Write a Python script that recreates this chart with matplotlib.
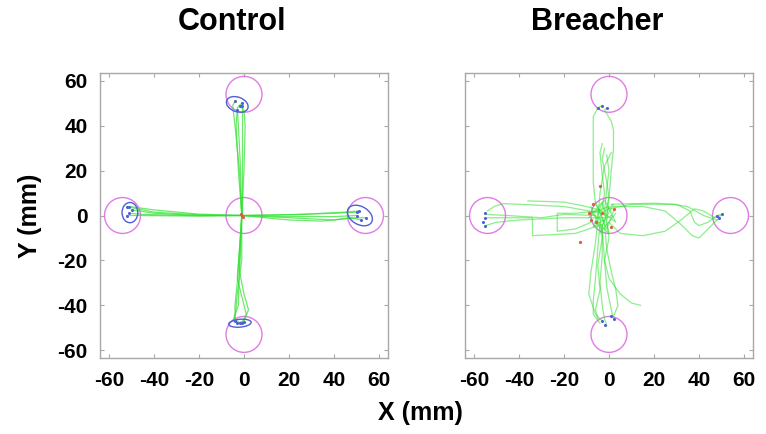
import matplotlib
matplotlib.use("Agg")
import matplotlib.pyplot as plt
from matplotlib.patches import Circle, Ellipse

# ---------------- data (mm) ----------------
targets = [(0, 0), (-54, 0), (54, 0), (0, 54), (0, -53)]
target_radius = 8
tick_values = [-60, -40, -20, 0, 20, 40, 60]

# Control trajectories
ctrl_up = [
    [(-1, 0), (-2, 20), (-4, 40), (-5, 49), (-4, 51)],
    [(-1, 0), (-1.5, 20), (-2.5, 40), (-3, 48), (-1, 50)],
    [(-1, 0), (-1, 20), (-1, 40), (-1, 49)],
    [(-1, 0), (0, 20), (0.5, 40), (0, 47), (-2, 49)],
    [(-1, 0), (-2.5, 20), (-3.5, 40), (-3, 47)],
]
ctrl_down = [
    [(-1, 0), (-2, -15), (-3, -30), (-4, -40), (-4, -47)],
    [(-1, 0), (-1.5, -15), (-2, -25), (0, -35), (2, -42), (0, -47), (-3, -48)],
    [(-1, 0), (-2, -15), (-3, -28), (-1, -36), (1, -44), (-1, -48)],
    [(-1, 0), (-1, -20), (-3, -35), (-4, -46), (-2, -48)],
    [(-1, 0), (-2, -20), (-2.5, -40), (-5, -47), (-1, -48)],
]
ctrl_left = [
    [(-1, 0), (-20, 0.3), (-40, 1.5), (-50, 3.5), (-52, 4)],
    [(-1, 0), (-20, 0), (-40, 1), (-50, 2.5)],
    [(-1, 0), (-20, 0.6), (-40, 2.5), (-51, 4)],
    [(-1, 0), (-25, 0), (-45, 0.5), (-51, 1)],
    [(-1, 0), (-20, -0.3), (-45, 0), (-52, 0)],
]
ctrl_right = [
    [(-1, 0), (20, 0.3), (40, 1), (50, 1.5)],
    [(-1, 0), (20, -1), (40, -2), (50, -1), (54, -1)],
    [(-1, 0), (20, -2), (35, -2.5), (48, -1), (52, -2)],
    [(-1, 0), (25, 0.5), (45, 1.5), (51, 2)],
    [(-1, 0), (20, -0.5), (40, -0.5), (50, 0)],
]
ctrl_start = [(-1, 0), (-1.5, 0.5), (-0.5, -0.5)]
ctrl_end = [(-4, 51), (-1, 50), (-1, 49), (-2, 49), (-3, 47),
            (-4, -47), (-3, -48), (-1, -48), (-2, -48), (0, -47.5),
            (-52, 4), (-50, 2.5), (-51, 4), (-51, 1), (-52, 0),
            (50, 1.5), (54, -1), (52, -2), (51, 2), (50, 0)]
# error ellipses: center x, center y, width, height, angle
ctrl_ell_x = [-3, -50.7, 51.5, -1.8]
ctrl_ell_y = [49.5, 1.3, 0, -48]
ctrl_ell_w = [10, 7, 12, 10]
ctrl_ell_h = [6.5, 9, 8, 3.5]
ctrl_ell_a = [-20, 0, -30, 5]

# Breacher trajectories
brch_up = [
    [(-4, 2), (-6, 5), (-7, 15), (-7, 30), (-7, 44), (-5, 48), (-3, 49)],
    [(-2, 0), (0, 8), (1, 20), (2, 30), (2, 38), (1, 42), (-2, 47), (-1, 48)],
    [(-3, 3), (-2, 10), (-3, 18), (-4, 28), (-3, 32)],
    [(-1, -2), (0, 8), (-1, 15), (-3, 25), (-2, 30)],
    [(-5, -3), (-4, 10), (-2, 22), (1, 28)],
    [(-2, 2), (-1, 12), (0, 20), (-1, 27)],
]
brch_left = [
    [(-3, 1), (-20, 4), (-40, 5), (-47, 5.3), (-51, 4), (-54, 2)],
    [(-36, 6.5), (-20, 6), (-10, 4), (-3, 2)],
    [(-3, -4), (-15, -8), (-34, -9), (-34, -1), (-45, -1), (-55, -1)],
    [(-2, -1), (-20, -1), (-40, -2), (-50, -3), (-55, -4.5)],
    [(-5, 2), (-15, 1), (-23, 1), (-23, -7), (-15, -6), (-8, -3)],
    [(-6, 0), (-20, 0.5), (-30, -1), (-45, 0), (-55, 0.5)],
]
brch_right = [
    [(0, 3), (10, 5), (20, 5), (30, 5), (36, 2), (38, -3), (40, -4.5), (44, -3), (48, 0), (50, 0.5)],
    [(2, 4), (15, 4), (25, 2), (32, -4), (37, -9), (40, -10), (45, -5), (49, -1)],
    [(0, -3), (5, -8), (15, -9), (25, -7), (32, -2), (38, 3), (42, 2), (47, -1), (50, 0)],
    [(1, 5), (20, 5.5), (28, 5), (35, 4), (42, 0), (48, -2)],
]
brch_down = [
    [(-4, -3), (-5, -15), (-6, -28), (-7, -38), (-7, -44), (-4, -48)],
    [(-3, -5), (-3, -18), (-4, -30), (-3, -40), (-2, -46), (-1, -49)],
    [(-2, -4), (-1, -15), (1, -25), (3, -33), (4, -40), (2, -45)],
    [(-3, -6), (-2, -20), (0, -28), (5, -35), (10, -39), (14, -40)],
    [(-5, -2), (-6, -12), (-8, -25), (-9, -35), (-6, -44), (-3, -47)],
    [(-1, -3), (0, -10), (-2, -20), (-1, -32), (1, -42), (2, -46)],
    [(-4, -1), (-3, -10), (-5, -22), (-4, -33), (-6, -42), (-5, -46)],
]
brch_center = [
    [(-8, 4), (-4, -6), (2, 5), (-6, -2), (0, -8), (-3, 6), (-7, -5), (1, 0)],
    [(-9, -1), (-2, 7), (3, -3), (-5, 3), (-1, -6), (2, 2)],
    [(-6, 6), (-2, -3), (-8, 1), (0, 4), (-4, -8), (3, 1)],
]
brch_start = [(-7, 5), (-6, -3), (-3, 1), (2, 3), (-8, -2), (-13, -12), (-4, 13), (1, -5), (-9, 1)]
brch_end = [(-5, 48), (-3, 49), (-1, 48),
            (-55, 1), (-55, -1), (-56, -3), (-55, -4.5),
            (48, 0), (50, 0.5), (49, -1),
            (-3, -47), (-2, -49), (2, -46), (1, -45)]

# ---------------- drawing ----------------
GREEN = "#2fe02f"
MAGENTA = "#e07ce4"
BLUE = "#4f5fd6"
RED = "#d9603a"
SPINE = "#a8a8a8"

fig = plt.figure(figsize=(7.66, 4.34), dpi=100)
W, H = 766, 434
ax_l = fig.add_axes([100 / W, (H - 358) / H, 288 / W, 285 / H])
ax_r = fig.add_axes([465 / W, (H - 358) / H, 288 / W, 285 / H])

tick_font = dict(family=["Liberation Sans Narrow", "Liberation Sans", "DejaVu Sans"],
                 weight="bold", size=15)


def draw_panel(ax, groups, starts, ends, alpha, ellipses=None):
    for tx, ty in targets:
        ax.add_patch(Circle((tx, ty), target_radius, fill=False,
                            edgecolor=MAGENTA, lw=1.0, zorder=2))
    for group in groups:
        for traj in group:
            xs = [p[0] for p in traj]
            ys = [p[1] for p in traj]
            ax.plot(xs, ys, color=GREEN, lw=0.9, alpha=alpha, zorder=3)
    if ellipses is not None:
        for cx, cy, w, h, a in zip(*ellipses):
            ax.add_patch(Ellipse((cx, cy), w, h, angle=a, fill=False,
                                 edgecolor=BLUE, lw=1.0, zorder=4))
    ax.plot([p[0] for p in ends], [p[1] for p in ends], ls="none",
            marker="o", ms=1.2, color=BLUE, zorder=5)
    ax.plot([p[0] for p in starts], [p[1] for p in starts], ls="none",
            marker="o", ms=1.3, color=RED, zorder=5)
    ax.set_xlim(-64, 64)
    ax.set_ylim(-63.5, 63.5)
    ax.set_xticks(tick_values)
    ax.set_yticks(tick_values)
    ax.tick_params(direction="in", length=3, width=0.8, color=SPINE,
                   top=True, right=True, pad=9)
    for s in ax.spines.values():
        s.set_color(SPINE)
        s.set_linewidth(1.0)
    ax.set_xticklabels([str(v) for v in tick_values], **tick_font)


draw_panel(ax_l, [ctrl_up, ctrl_down, ctrl_left, ctrl_right], ctrl_start, ctrl_end, 0.7,
           (ctrl_ell_x, ctrl_ell_y, ctrl_ell_w, ctrl_ell_h, ctrl_ell_a))
ax_l.set_yticklabels([str(v) for v in tick_values], **tick_font)
draw_panel(ax_r, [brch_up, brch_left, brch_right, brch_down, brch_center],
           brch_start, brch_end, 0.55)
ax_r.set_yticklabels([])

title_font = dict(family=["Liberation Sans", "DejaVu Sans"], weight="bold")
fig.text(232 / W, 1 - 22 / H, "Control", ha="center", va="center", size=22, **title_font)
fig.text(597 / W, 1 - 22 / H, "Breacher", ha="center", va="center", size=22, **title_font)
fig.text(30 / W, 1 - 216 / H, "Y (mm)", ha="center", va="center", rotation=90,
         size=18, **title_font)
fig.text(420 / W, 1 - 413 / H, "X (mm)", ha="center", va="center", size=18, **title_font)

fig.savefig("out.png", dpi=100)
